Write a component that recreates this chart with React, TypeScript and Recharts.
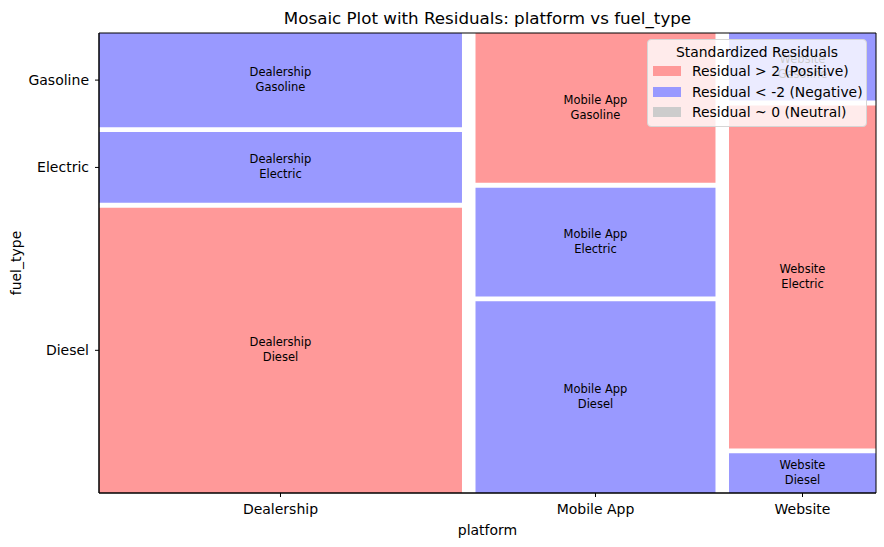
import React from 'react';
import { ComposedChart, XAxis, YAxis, ReferenceArea } from 'recharts';

// platform columns (left to right) and their share of all listings
const platforms = ['Dealership', 'Mobile App', 'Website'];
const platformShare = [0.484, 0.32, 0.196];

// fuel types, stacked bottom-up inside each column
const fuels = ['Diesel', 'Electric', 'Gasoline'];
const dealershipShare = [0.633, 0.157, 0.209];
const mobileAppShare = [0.425, 0.241, 0.332];
const websiteShare = [0.088, 0.762, 0.15];

// sign of standardized residual per tile (same order as fuels)
const dealershipResidual = ['pos', 'neg', 'neg'];
const mobileAppResidual = ['neg', 'neg', 'pos'];
const websiteResidual = ['neg', 'pos', 'neg'];

const legendItems = [
  { label: 'Residual > 2 (Positive)', color: '#ff9999' },
  { label: 'Residual < -2 (Negative)', color: '#9999ff' },
  { label: 'Residual ~ 0 (Neutral)', color: '#cccccc' },
];

const FONT = '"DejaVu Sans", sans-serif';
const GAP_X = 0.0174;
const GAP_Y = 0.0105;

const columnShares = [dealershipShare, mobileAppShare, websiteShare];
const columnResiduals = [dealershipResidual, mobileAppResidual, websiteResidual];

type Tile = { x1: number; x2: number; y1: number; y2: number; platform: string; fuel: string; sign: string };

const tiles: Tile[] = [];
const xCenters: number[] = [];
const totalX = platformShare.reduce((a, b) => a + b, 0);
let xPos = 0;
platforms.forEach((p, i) => {
  const w = (platformShare[i] / totalX) * (1 - GAP_X * (platforms.length - 1));
  xCenters.push(xPos + w / 2);
  const shares = columnShares[i];
  const totalY = shares.reduce((a, b) => a + b, 0);
  let yPos = 0;
  fuels.forEach((f, j) => {
    const h = (shares[j] / totalY) * (1 - GAP_Y * (fuels.length - 1));
    tiles.push({ x1: xPos, x2: xPos + w, y1: yPos, y2: yPos + h, platform: p, fuel: f, sign: columnResiduals[i][j] });
    yPos += h + GAP_Y;
  });
  xPos += w + GAP_X;
});
const yCenters = tiles.filter((t) => t.platform === platforms[0]).map((t) => (t.y1 + t.y2) / 2);

const tileColor = (sign: string) => (sign === 'pos' ? '#ff9999' : sign === 'neg' ? '#9999ff' : '#cccccc');

const tileLabel = (t: Tile) => (props: any) => {
  const vb = props.viewBox || {};
  const cx = vb.x + vb.width / 2;
  const cy = vb.y + vb.height / 2;
  return (
    <text x={cx} y={cy} textAnchor="middle" fontSize={11.5} fontFamily={FONT} fill="#000">
      <tspan x={cx} y={cy - 8} dominantBaseline="central">{t.platform}</tspan>
      <tspan x={cx} y={cy + 7} dominantBaseline="central">{t.fuel}</tspan>
    </text>
  );
};

export default function App() {
  return (
    <div style={{ position: 'relative', width: 884, height: 547, fontFamily: FONT }}>
      <style>{'body{margin:0}'}</style>
      <ComposedChart width={884} height={547} margin={{ top: 33, right: 8, bottom: 0, left: 0 }}>
        <XAxis
          type="number"
          dataKey="x"
          domain={[0, 1]}
          allowDataOverflow
          ticks={xCenters}
          tickFormatter={(_v: number, i: number) => platforms[i]}
          height={54}
          axisLine={{ stroke: '#000' }}
          tickLine={{ stroke: '#000' }}
          tickSize={4}
          tickMargin={7}
          tick={{ fill: '#000', fontSize: 14, fontFamily: FONT }}
        />
        <YAxis
          type="number"
          dataKey="y"
          domain={[0, 1]}
          allowDataOverflow
          ticks={yCenters}
          tickFormatter={(_v: number, i: number) => fuels[i]}
          width={99}
          axisLine={{ stroke: '#000' }}
          tickLine={{ stroke: '#000' }}
          tickSize={4}
          tickMargin={6}
          tick={{ fill: '#000', fontSize: 14, fontFamily: FONT }}
        />
        {tiles.map((t) => (
          <ReferenceArea
            key={t.platform + t.fuel}
            x1={t.x1}
            x2={t.x2}
            y1={t.y1}
            y2={t.y2}
            fill={tileColor(t.sign)}
            fillOpacity={1}
            stroke="none"
            label={tileLabel(t)}
          />
        ))}
        <ReferenceArea x1={0} x2={1} y1={0} y2={1} fill="none" stroke="#000" strokeWidth={1} />
        <text x={487.5} y={18} textAnchor="middle" dominantBaseline="central" fontSize={16.7} fontFamily={FONT} fill="#000">
          Mosaic Plot with Residuals: platform vs fuel_type
        </text>
        <text x={487.5} y={530} textAnchor="middle" dominantBaseline="central" fontSize={14} fontFamily={FONT} fill="#000">
          platform
        </text>
        <text x={16} y={263} textAnchor="middle" dominantBaseline="central" fontSize={14} fontFamily={FONT} fill="#000" transform="rotate(-90 16 263)">
          fuel_type
        </text>
      </ComposedChart>
      <div
        style={{
          position: 'absolute',
          left: 647,
          top: 39,
          width: 218,
          height: 86,
          background: 'rgba(255,255,255,0.8)',
          border: '1px solid #d6d6d6',
          borderRadius: 4,
          fontSize: 13.9,
          color: '#000',
        }}
      >
        <div style={{ textAlign: 'center', marginTop: 3, lineHeight: '18px' }}>Standardized Residuals</div>
        {legendItems.map((it) => (
          <div key={it.label} style={{ display: 'flex', alignItems: 'center', height: 20.5, marginLeft: 5 }}>
            <span style={{ display: 'inline-block', width: 28, height: 10, background: it.color, marginRight: 11 }} />
            <span>{it.label}</span>
          </div>
        ))}
      </div>
    </div>
  );
}
